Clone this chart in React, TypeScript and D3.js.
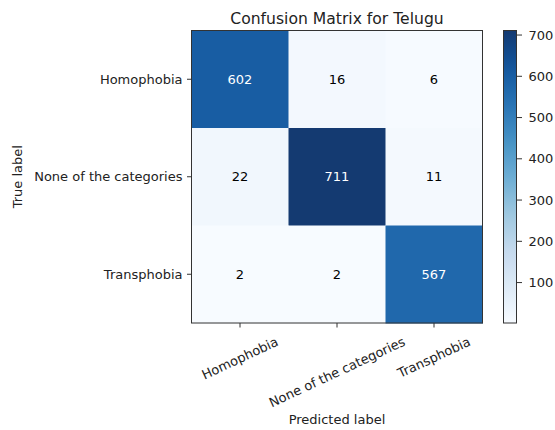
import React, {useEffect, useRef} from 'react';
import * as d3 from 'd3';

const width = 555;
const height = 430;
const FONT = '"DejaVu Sans", sans-serif';
const FS = 13;

// data
const labels = ['Homophobia', 'None of the categories', 'Transphobia'];
const matrix = [
    [602, 16, 6],
    [22, 711, 11],
    [2, 2, 567],
];
const cbarTicks = [100, 200, 300, 400, 500, 600, 700];
const blues = ['#f7fbff', '#deebf7', '#c6dbef', '#9ecae1', '#6baed6', '#4292c6', '#2171b5', '#08519c', '#08306b'];

const App = () => {
    const canvas = useRef<HTMLDivElement>(null);

    useEffect(() => {
        document.body.style.margin = '0';
        document.body.style.overflow = 'hidden';
        d3.select(canvas.current).selectAll('svg').remove();

        const svg = d3.select(canvas.current)
            .append('svg')
            .attr('width', width)
            .attr('height', height)
            .style('display', 'block')
            .style('background', '#fff');

        const left = 191.5, right = 482.5, top = 30.5, bottom = 323;
        const flat = matrix.flat();
        const vmin = d3.min(flat) as number;
        const vmax = d3.max(flat) as number;

        const base = d3.scaleLinear<string>()
            .domain(blues.map((_, i) => vmin + (vmax - vmin) * i / (blues.length - 1)))
            .range(blues)
            .interpolate(d3.interpolateRgb);
        // the reference image is a bit washed out in the dark end
        const color = (v: number) => {
            const t = (v - vmin) / (vmax - vmin);
            return d3.interpolateRgb(base(v), '#8090a8')(0.1 * t);
        };

        const x = d3.scaleBand().domain(labels).range([left, right]);
        const y = d3.scaleBand().domain(labels).range([top, bottom]);

        // cells
        matrix.forEach((row, i) => {
            row.forEach((v, j) => {
                svg.append('rect')
                    .attr('x', x(labels[j])!)
                    .attr('y', y(labels[i])!)
                    .attr('width', x.bandwidth() + 0.5)
                    .attr('height', y.bandwidth() + 0.5)
                    .attr('fill', color(v));
                svg.append('text')
                    .attr('x', x(labels[j])! + x.bandwidth() / 2)
                    .attr('y', y(labels[i])! + y.bandwidth() / 2)
                    .attr('text-anchor', 'middle')
                    .attr('dominant-baseline', 'central')
                    .attr('font-family', FONT)
                    .attr('font-size', FS)
                    .attr('fill', v > vmax / 2 ? '#fff' : '#000')
                    .text(v);
            });
        });

        svg.append('rect')
            .attr('x', left).attr('y', top)
            .attr('width', right - left).attr('height', bottom - top)
            .attr('fill', 'none').attr('stroke', '#333').attr('stroke-width', 1);

        // y ticks
        labels.forEach(l => {
            const cy = y(l)! + y.bandwidth() / 2;
            svg.append('line')
                .attr('x1', left - 4.5).attr('x2', left)
                .attr('y1', cy).attr('y2', cy)
                .attr('stroke', '#333');
            svg.append('text')
                .attr('x', left - 9)
                .attr('y', cy)
                .attr('text-anchor', 'end')
                .attr('dominant-baseline', 'central')
                .attr('font-family', FONT)
                .attr('font-size', FS)
                .attr('fill', '#222')
                .text(l);
        });

        // x ticks, rotated 25 deg, centred like matplotlib
        const ang = 25 * Math.PI / 180;
        labels.forEach(l => {
            const cx = x(l)! + x.bandwidth() / 2;
            svg.append('line')
                .attr('x1', cx).attr('x2', cx)
                .attr('y1', bottom).attr('y2', bottom + 4.5)
                .attr('stroke', '#333');
            const t = svg.append('text')
                .attr('text-anchor', 'middle')
                .attr('dominant-baseline', 'central')
                .attr('font-family', FONT)
                .attr('font-size', FS)
                .attr('fill', '#222')
                .text(l);
            const w = (t.node() as SVGTextElement).getComputedTextLength();
            const h = FS * 1.15;
            const H = w * Math.sin(ang) + h * Math.cos(ang);
            const cy = bottom + 11 + H / 2;
            t.attr('transform', `translate(${cx},${cy}) rotate(-25)`);
        });

        // title and axis labels
        svg.append('text')
            .attr('x', (left + right) / 2).attr('y', 24)
            .attr('text-anchor', 'middle')
            .attr('font-family', FONT).attr('font-size', 15.6)
            .attr('fill', '#222')
            .text('Confusion Matrix for Telugu');
        svg.append('text')
            .attr('x', (left + right) / 2).attr('y', 423.5)
            .attr('text-anchor', 'middle')
            .attr('font-family', FONT).attr('font-size', FS)
            .attr('fill', '#222')
            .text('Predicted label');
        svg.append('text')
            .attr('transform', `translate(21.5,${(top + bottom) / 2}) rotate(-90)`)
            .attr('text-anchor', 'middle')
            .attr('font-family', FONT).attr('font-size', FS)
            .attr('fill', '#222')
            .text('True label');

        // colorbar
        const cbL = 503.5, cbR = 516.5;
        const cy = d3.scaleLinear().domain([vmin, vmax]).range([bottom, top]);
        const grad = svg.append('defs').append('linearGradient')
            .attr('id', 'cbgrad')
            .attr('x1', 0).attr('y1', 1).attr('x2', 0).attr('y2', 0);
        d3.range(0, 1.0001, 0.05).forEach(f => {
            grad.append('stop')
                .attr('offset', f)
                .attr('stop-color', color(vmin + f * (vmax - vmin)));
        });
        svg.append('rect')
            .attr('x', cbL).attr('y', top)
            .attr('width', cbR - cbL).attr('height', bottom - top)
            .attr('fill', 'url(#cbgrad)')
            .attr('stroke', '#333').attr('stroke-width', 1);
        cbarTicks.forEach(tv => {
            svg.append('line')
                .attr('x1', cbR).attr('x2', cbR + 5.5)
                .attr('y1', cy(tv)).attr('y2', cy(tv))
                .attr('stroke', '#333');
            svg.append('text')
                .attr('x', cbR + 12).attr('y', cy(tv))
                .attr('dominant-baseline', 'central')
                .attr('font-family', FONT).attr('font-size', FS)
                .attr('fill', '#222')
                .text(tv);
        });
    }, []);

    return <div ref={canvas} style={{position: 'absolute', left: 0, top: 0}} />;
};

export default App;
